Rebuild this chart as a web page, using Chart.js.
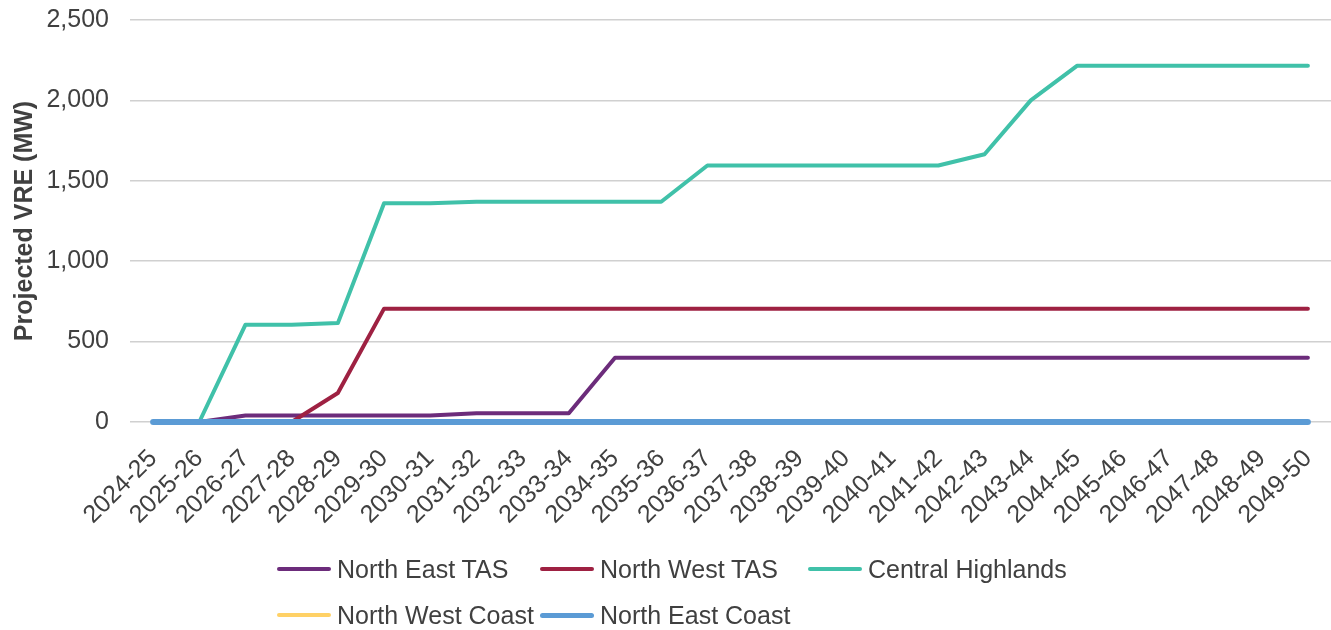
<!DOCTYPE html>
<html>
<head>
<meta charset="utf-8">
<script src="https://cdn.jsdelivr.net/npm/chart.js@4.4.1/dist/chart.umd.min.js"></script>
<style>
  html, body { margin: 0; padding: 0; background: #ffffff; }
  #wrap { position: relative; width: 1331px; height: 630px; overflow: hidden; }
  #chart { position: absolute; left: 0; top: 0; }
  #legend {
    position: absolute; left: 277px; top: 546px;
    display: grid; grid-template-columns: 263px 268px auto;
    grid-auto-rows: 46px;
    font-family: "Liberation Sans", Arial, sans-serif; font-size: 25px; color: #404040;
  }
  .item { display: flex; align-items: center; white-space: nowrap; }
  .swatch { width: 54px; border-radius: 3px; margin-right: 6px; flex: none; }
</style>
</head>
<body>
<div id="wrap">
  <canvas id="chart" width="1331" height="630"></canvas>
  <div id="legend"></div>
</div>
<script>
const categories = ['2024-25','2025-26','2026-27','2027-28','2028-29','2029-30','2030-31','2031-32','2032-33','2033-34',
  '2034-35','2035-36','2036-37','2037-38','2038-39','2039-40','2040-41','2041-42','2042-43','2043-44',
  '2044-45','2045-46','2046-47','2047-48','2048-49','2049-50'];

const northEastTAS = [0,0,40,40,40,40,40,55,55,55,400,400,400,400,400,400,400,400,400,400,400,400,400,400,400,400];
const northWestTAS = [0,0,0,0,180,705,705,705,705,705,705,705,705,705,705,705,705,705,705,705,705,705,705,705,705,705];
const centralHighlands = [0,0,605,605,615,1360,1360,1370,1370,1370,1370,1370,1595,1595,1595,1595,1595,1595,1665,2000,2215,2215,2215,2215,2215,2215];
const northWestCoast = [0,0,0,0,0,0,0,0,0,0,0,0,0,0,0,0,0,0,0,0,0,0,0,0,0,0];
const northEastCoast = [0,0,0,0,0,0,0,0,0,0,0,0,0,0,0,0,0,0,0,0,0,0,0,0,0,0];

const yTicks = [0, 500, 1000, 1500, 2000, 2500];

const TEXT = '#404040';
const FONT = '"Liberation Sans", Arial, sans-serif';

function series(label, data, color, width, order) {
  return {
    label, data, order,
    borderColor: color, backgroundColor: color,
    borderWidth: width, pointRadius: 0, pointHoverRadius: 0,
    tension: 0, fill: false, clip: false,
    borderCapStyle: 'round', borderJoinStyle: 'round'
  };
}

const chart = new Chart(document.getElementById('chart'), {
  type: 'line',
  data: {
    labels: categories,
    datasets: [
      series('North East TAS', northEastTAS, '#6C2C7B', 4, 5),
      series('North West TAS', northWestTAS, '#9E2142', 4, 4),
      series('Central Highlands', centralHighlands, '#40C1A9', 4, 3),
      series('North West Coast', northWestCoast, '#FFD166', 4, 2),
      series('North East Coast', northEastCoast, '#5B9BD5', 6, 1)
    ]
  },
  options: {
    responsive: false,
    animation: false,
    events: [],
    layout: { padding: { top: 20, right: 0, bottom: 100, left: 0 } },
    plugins: { legend: { display: false }, tooltip: { enabled: false } },
    scales: {
      x: {
        type: 'category',
        offset: true,
        grid: { display: false, drawTicks: false },
        border: { display: false },
        ticks: {
          autoSkip: false, maxRotation: 45, minRotation: 45,
          padding: 22, color: TEXT, font: { family: FONT, size: 25 }
        },
        afterFit(scale) { scale.height = 108; scale.paddingLeft = 0; scale.paddingRight = 0; }
      },
      y: {
        min: 0, max: 2500,
        afterBuildTicks(scale) { scale.ticks = yTicks.map(v => ({ value: v })); },
        grid: { color: '#D0D0D0', lineWidth: 1.5, drawTicks: false },
        border: { display: false },
        ticks: {
          padding: 21, color: TEXT, font: { family: FONT, size: 25 },
          callback: v => v.toLocaleString('en-US')
        },
        title: {
          display: true, text: 'Projected VRE (MW)', color: TEXT,
          font: { family: FONT, size: 25, weight: 'bold' },
          padding: { top: 10, bottom: 0 }
        },
        afterFit(scale) { scale.width = 130; scale.paddingTop = 0; scale.paddingBottom = 0; }
      }
    }
  }
});

// Legend built from the chart's own datasets, in dataset order
const legend = document.getElementById('legend');
chart.data.datasets.forEach(ds => {
  const item = document.createElement('div');
  item.className = 'item';
  const sw = document.createElement('span');
  sw.className = 'swatch';
  sw.style.background = ds.borderColor;
  sw.style.height = (ds.borderWidth >= 6 ? 5 : 4) + 'px';
  const tx = document.createElement('span');
  tx.textContent = ds.label;
  item.appendChild(sw);
  item.appendChild(tx);
  legend.appendChild(item);
});
</script>
</body>
</html>
